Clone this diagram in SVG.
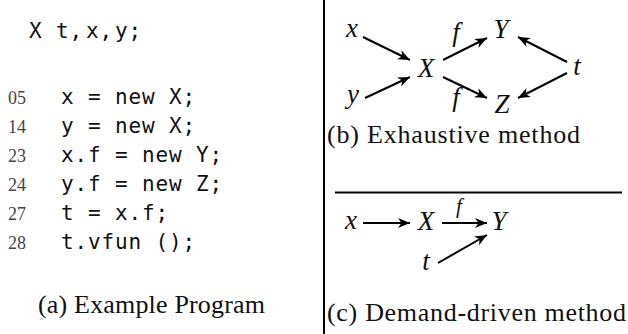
<svg xmlns="http://www.w3.org/2000/svg" width="628" height="334" viewBox="0 0 628 334">
<defs>
<marker id="ah" markerUnits="userSpaceOnUse" markerWidth="14" markerHeight="12" refX="12" refY="5" orient="auto" overflow="visible">
<path d="M0,0 L12,5 L0,10 L3.5,5 Z" fill="#000"/>
</marker>
<style>
.code{font-family:"DejaVu Sans Mono","Liberation Mono",monospace;font-size:21px;letter-spacing:0.85px;fill:#111}
.ln{font-family:"Liberation Serif",serif;font-size:18px;fill:#444}
.cap{font-family:"Liberation Serif",serif;font-size:26px;fill:#111}
.m{font-family:"Liberation Serif",serif;font-style:italic;font-size:27px;fill:#111;text-anchor:middle}
.ms{font-family:"Liberation Serif",serif;font-style:italic;font-size:21px;fill:#111;text-anchor:middle}
.e{stroke:#000;stroke-width:2;fill:none;marker-end:url(#ah)}
.rule{stroke:#000;stroke-width:2}
</style>
</defs>
<rect width="628" height="334" fill="#fff"/>
<line class="rule" x1="324" y1="0" x2="324" y2="334"/>
<line class="rule" x1="335" y1="192.5" x2="622" y2="192.5"/>
<g id="program">
<text class="code" y="38"><tspan x="29">X</tspan><tspan x="56">t,</tspan><tspan x="86">x,</tspan><tspan x="115">y;</tspan></text>
<text class="ln" x="8" y="104">05</text><text class="code" x="61" y="104">x = new X;</text>
<text class="ln" x="8" y="133">14</text><text class="code" x="61" y="133">y = new X;</text>
<text class="ln" x="8" y="162">23</text><text class="code" x="61" y="162">x.f = new Y;</text>
<text class="ln" x="8" y="191">24</text><text class="code" x="61" y="191">y.f = new Z;</text>
<text class="ln" x="8" y="220">27</text><text class="code" x="61" y="220">t = x.f;</text>
<text class="ln" x="8" y="249">28</text><text class="code" x="61" y="249">t.vfun ();</text>
<text class="cap" x="38" y="313" textLength="227" lengthAdjust="spacing">(a) Example Program</text>
</g>
<g id="exhaustive">
<g id="b-x"><text class="m" x="352" y="37">x</text></g>
<g id="b-y"><text class="m" x="353" y="103">y</text></g>
<g id="b-X"><text class="m" x="426" y="77">X</text></g>
<g id="b-Y"><text class="m" x="501" y="38">Y</text></g>
<g id="b-Z"><text class="m" x="502" y="113">Z</text></g>
<g id="b-t"><text class="m" x="577" y="75">t</text></g>
<g id="b-edges">
<line class="e" x1="363" y1="37" x2="410" y2="60"/>
<line class="e" x1="365" y1="98" x2="410" y2="77"/>
<line class="e" x1="443" y1="60" x2="487" y2="38"/>
<line class="e" x1="443" y1="77" x2="487" y2="98"/>
<line class="e" x1="567" y1="62" x2="518" y2="37"/>
<line class="e" x1="567" y1="73" x2="518" y2="98"/>
<text class="m" x="456" y="41">f</text>
<text class="m" x="456" y="106">f</text>
</g>
<text class="cap" x="327" y="143" textLength="253" lengthAdjust="spacing">(b) Exhaustive method</text>
</g>
<g id="demand">
<g id="c-x"><text class="m" x="351" y="229">x</text></g>
<g id="c-X"><text class="m" x="426" y="230">X</text></g>
<g id="c-Y"><text class="m" x="499" y="230">Y</text></g>
<g id="c-t"><text class="m" x="426" y="270">t</text></g>
<g id="c-edges">
<line class="e" x1="363" y1="223" x2="410" y2="223"/>
<line class="e" x1="442" y1="223" x2="487" y2="223"/>
<line class="e" x1="438" y1="263" x2="487" y2="235"/>
<text class="ms" x="459" y="213">f</text>
</g>
<text class="cap" x="327" y="321" textLength="299" lengthAdjust="spacing">(c) Demand-driven method</text>
</g>
</svg>
